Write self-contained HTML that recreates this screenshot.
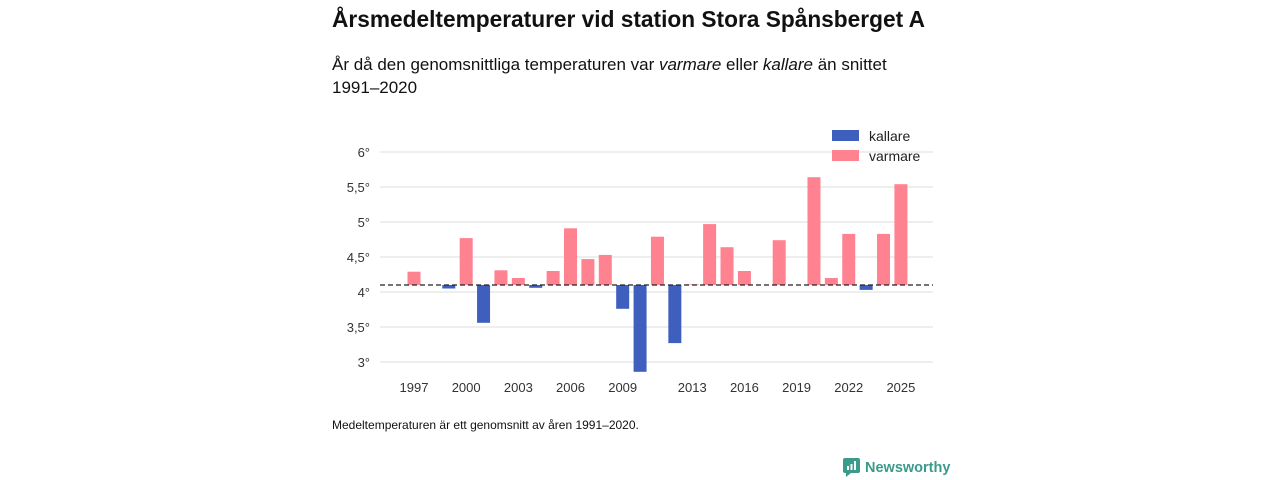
<!DOCTYPE html>
<html><head><meta charset="utf-8"><style>
body{margin:0;width:1280px;height:480px;background:#fff;font-family:"Liberation Sans",sans-serif;color:#111;position:relative;overflow:hidden}
.t{position:absolute;left:332px}
</style></head><body>
<div class="t" style="top:6px;font-size:22.7px;font-weight:bold">Årsmedeltemperaturer vid station Stora Spånsberget A</div>
<div class="t" style="top:53px;font-size:17px;line-height:23px;width:600px">År då den genomsnittliga temperaturen var <i>varmare</i> eller <i>kallare</i> än snittet 1991–2020</div>
<svg id="c" width="1280" height="480" style="position:absolute;left:0;top:0"></svg>
<div class="t" style="top:418px;font-size:12px">Medeltemperaturen är ett genomsnitt av åren 1991–2020.</div>
<div style="position:absolute;left:843px;top:458px;display:flex;align-items:center;color:#3a9a8c;font-size:14.5px;font-weight:600">
<svg width="17" height="19" style="margin-right:5px"><rect x="0" y="0" width="17" height="15" rx="2" fill="#3a9a8c"/><polygon points="3,15 8,15 3,19" fill="#3a9a8c"/><rect x="4" y="8" width="2" height="4" fill="#fff"/><rect x="7.5" y="6" width="2" height="6" fill="#fff"/><rect x="11" y="3" width="2" height="9" fill="#fff"/></svg>Newsworthy</div>
<script>
const years=[1997,1998,1999,2000,2001,2002,2003,2004,2005,2006,2007,2008,2009,2010,2011,2012,2013,2014,2015,2016,2017,2018,2019,2020,2021,2022,2023,2024,2025];
const temps=[4.29,4.1,4.05,4.77,3.56,4.31,4.2,4.06,4.3,4.91,4.47,4.53,3.76,2.86,4.79,3.27,4.11,4.97,4.64,4.3,4.1,4.74,4.1,5.64,4.2,4.83,4.03,4.83,5.54];
const yTicks=[3,3.5,4,4.5,5,5.5,6];
const xTicks=[1997,2000,2003,2006,2009,2013,2016,2019,2022,2025];
const baseline=4.1;
const svg=document.getElementById('c');const NS='http://www.w3.org/2000/svg';
const x=v=>414+(v-1997)*17.39;const y=v=>292-(v-4)*70;
function mk(t,a){const e=document.createElementNS(NS,t);for(const k in a)e.setAttribute(k,a[k]);svg.appendChild(e);return e;}
yTicks.forEach(v=>{const l=mk('line',{x1:380,x2:933,y1:y(v),y2:y(v),stroke:'#ddd'});


const t=mk('text',{x:370,y:y(v)+5,'text-anchor':'end','font-size':13,fill:'#333','font-family':'Liberation Sans'});t.textContent=String(v).replace('.',',')+'°';

});
xTicks.forEach(v=>{const t=mk('text',{x:x(v),y:392,'text-anchor':'middle','font-size':13,fill:'#333','font-family':'Liberation Sans'});t.textContent=v;

});
years.forEach((yr,i)=>{const v=temps[i];const top=y(Math.max(v,baseline)),bot=y(Math.min(v,baseline));
const r=mk('rect',{x:x(yr)-6.5,y:top,width:13,height:Math.max(bot-top,0),fill:v>=baseline?'#ff8290':'#3f5fbf'});

});
const d=mk('line',{x1:380,x2:933,y1:y(baseline),y2:y(baseline),stroke:'#222','stroke-dasharray':'5,3','stroke-width':1.3});


[['kallare','#3f5fbf',136],['varmare','#ff8290',156]].forEach(([n,c,yy])=>{
const g=mk('g',{});

const r=document.createElementNS(NS,'rect');r.setAttribute('x',832);r.setAttribute('y',yy-6);r.setAttribute('width',27);r.setAttribute('height',11);r.setAttribute('fill',c);g.appendChild(r);
const t=document.createElementNS(NS,'text');t.setAttribute('x',869);t.setAttribute('y',yy+5);t.setAttribute('font-size',14);t.setAttribute('fill','#222');t.setAttribute('font-family','Liberation Sans');t.textContent=n;g.appendChild(t);});
</script>
</body></html>
